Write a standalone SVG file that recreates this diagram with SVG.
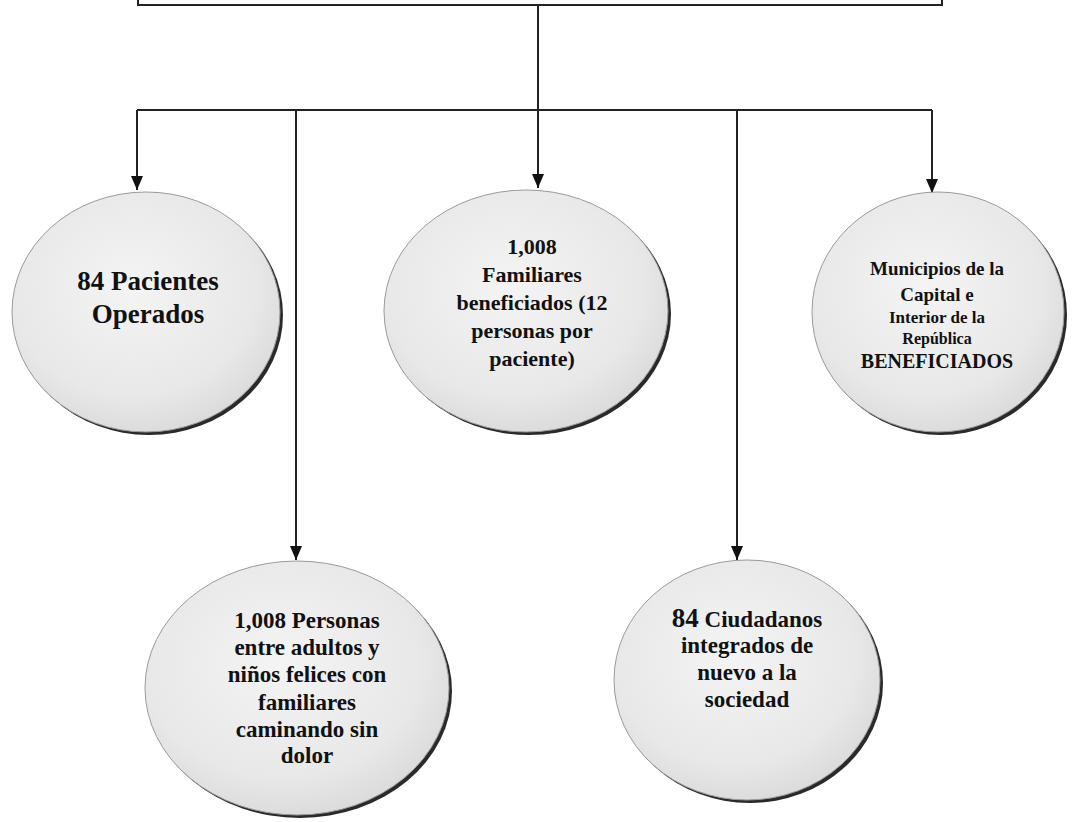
<svg xmlns="http://www.w3.org/2000/svg" width="1072" height="822" viewBox="0 0 1072 822">
<style>
.ln{stroke:#222;stroke-width:2;fill:none}
.sh{fill:#2a2a2a}
.bub{fill:url(#g);stroke:#9a9a9a;stroke-width:1}
.t{font-family:"Liberation Serif","Times New Roman",serif;font-weight:bold;fill:#111;text-anchor:middle}
</style>
<defs>
<radialGradient id="g" cx="45%" cy="40%" r="65%">
<stop offset="0" stop-color="#f4f4f4"/>
<stop offset="0.7" stop-color="#e8e8e8"/>
<stop offset="1" stop-color="#d8d8d8"/>
</radialGradient>
<marker id="a" viewBox="0 0 14 12" refX="14" refY="6" markerWidth="14" markerHeight="12" markerUnits="userSpaceOnUse" orient="auto">
<path d="M0,0 L14,6 L0,12 Z" fill="#111"/>
</marker>
</defs>
<rect width="1072" height="822" fill="#fff"/>
<g id="top-box">
<rect x="138" y="-12" width="804" height="17" fill="#fff" stroke="#222" stroke-width="2"/>
</g>
<g id="connectors">
<line class="ln" x1="538" y1="5" x2="538" y2="110"/>
<line class="ln" x1="137" y1="110" x2="932" y2="110"/>
<line class="ln" x1="137" y1="110" x2="137" y2="190" marker-end="url(#a)"/>
<line class="ln" x1="296" y1="110" x2="296" y2="560" marker-end="url(#a)"/>
<line class="ln" x1="538" y1="110" x2="538" y2="188" marker-end="url(#a)"/>
<line class="ln" x1="737" y1="110" x2="737" y2="560" marker-end="url(#a)"/>
<line class="ln" x1="932" y1="110" x2="932" y2="193" marker-end="url(#a)"/>
</g>
<g id="node-pacientes">
<ellipse class="sh" cx="149" cy="315" rx="134" ry="120"/>
<ellipse class="bub" cx="146" cy="312" rx="134" ry="120"/>
<text class="t" font-size="27"><tspan x="148" y="290">84 Pacientes</tspan><tspan x="148" y="323">Operados</tspan></text>
</g>
<g id="node-familiares">
<ellipse class="sh" cx="529" cy="314" rx="142" ry="121"/>
<ellipse class="bub" cx="526" cy="311" rx="142" ry="121"/>
<text class="t" font-size="22"><tspan x="532" y="254">1,008</tspan><tspan x="532" y="282">Familiares</tspan><tspan x="532" y="310">beneficiados (12</tspan><tspan x="532" y="338">personas por</tspan><tspan x="532" y="366">paciente)</tspan></text>
</g>
<g id="node-municipios">
<ellipse class="sh" cx="941" cy="315" rx="126" ry="120"/>
<ellipse class="bub" cx="938" cy="312" rx="126" ry="120"/>
<text class="t"><tspan x="937" y="275" font-size="19">Municipios de la</tspan><tspan x="937" y="301" font-size="19">Capital e</tspan><tspan x="937" y="323" font-size="17">Interior de la</tspan><tspan x="937" y="344" font-size="16">República</tspan><tspan x="937" y="368" font-size="20">BENEFICIADOS</tspan></text>
</g>
<g id="node-personas">
<ellipse class="sh" cx="300" cy="691" rx="152" ry="127"/>
<ellipse class="bub" cx="297" cy="688" rx="152" ry="127"/>
<text class="t" font-size="23"><tspan x="307" y="628">1,008 Personas</tspan><tspan x="307" y="655">entre adultos y</tspan><tspan x="307" y="682">niños felices con</tspan><tspan x="307" y="710">familiares</tspan><tspan x="307" y="737">caminando sin</tspan><tspan x="307" y="763">dolor</tspan></text>
</g>
<g id="node-ciudadanos">
<ellipse class="sh" cx="750" cy="683" rx="133" ry="120"/>
<ellipse class="bub" cx="747" cy="680" rx="133" ry="120"/>
<text class="t" font-size="23"><tspan x="747" y="627"><tspan font-size="27">84</tspan> Ciudadanos</tspan><tspan x="747" y="653">integrados de</tspan><tspan x="747" y="680">nuevo a la</tspan><tspan x="747" y="707">sociedad</tspan></text>
</g>
</svg>
